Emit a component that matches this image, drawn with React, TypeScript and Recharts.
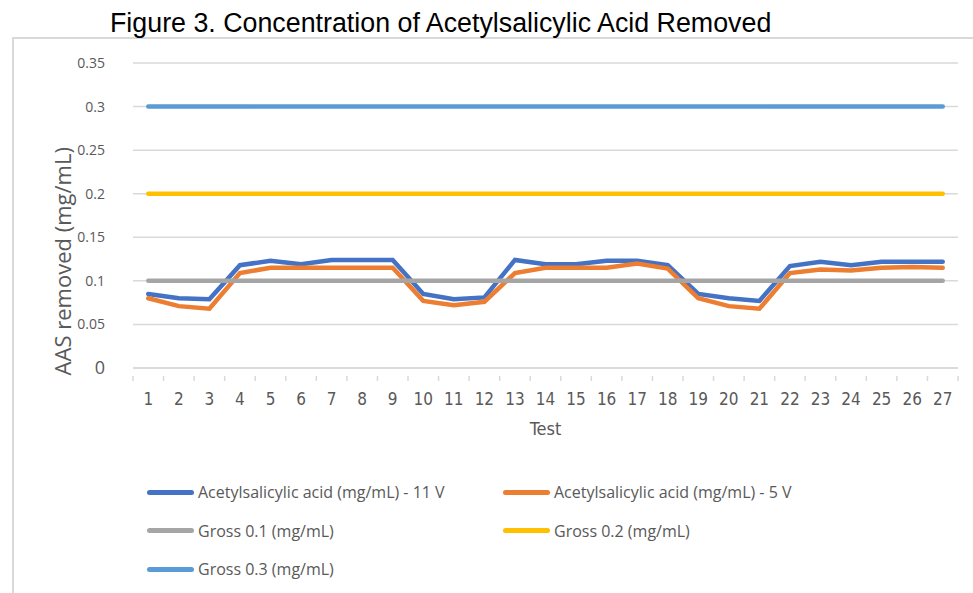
import React from 'react'
import { LineChart, Line, XAxis, YAxis, CartesianGrid, Label } from 'recharts'

const tests = ['1', '2', '3', '4', '5', '6', '7', '8', '9', '10', '11', '12', '13', '14', '15', '16', '17', '18', '19', '20', '21', '22', '23', '24', '25', '26', '27']

const aas11V = [0.085, 0.08, 0.079, 0.118, 0.123, 0.119, 0.124, 0.124, 0.124, 0.085, 0.079, 0.081, 0.124, 0.119, 0.119, 0.123, 0.123, 0.118, 0.085, 0.08, 0.077, 0.117, 0.122, 0.118, 0.122, 0.122, 0.122]
const aas5V = [0.08, 0.071, 0.068, 0.109, 0.115, 0.115, 0.115, 0.115, 0.115, 0.077, 0.072, 0.076, 0.109, 0.115, 0.115, 0.115, 0.12, 0.114, 0.08, 0.071, 0.068, 0.109, 0.113, 0.112, 0.115, 0.116, 0.115]

// the three reference levels are flat across every test
const grossLevels = [0.1, 0.2, 0.3]

const yTicks = [0, 0.05, 0.1, 0.15, 0.2, 0.25, 0.3, 0.35]

const series = [
  { key: 'v11', name: 'Acetylsalicylic acid (mg/mL) - 11 V', color: '#4472C4' },
  { key: 'v5', name: 'Acetylsalicylic acid (mg/mL) - 5 V', color: '#ED7D31' },
  { key: 'g1', name: 'Gross 0.1 (mg/mL)', color: '#A5A5A5' },
  { key: 'g2', name: 'Gross 0.2 (mg/mL)', color: '#FFC000' },
  { key: 'g3', name: 'Gross 0.3 (mg/mL)', color: '#5B9BD5' },
]

const data = tests.map((t, i) => ({
  test: t,
  v11: aas11V[i],
  v5: aas5V[i],
  g1: grossLevels[0],
  g2: grossLevels[1],
  g3: grossLevels[2],
}))

const CHART_W = 973
const CHART_H = 460
const MARGIN = { top: 63, right: 15, left: 73, bottom: 22 }
const Y_AXIS_W = 60
const PLOT_W = CHART_W - MARGIN.left - MARGIN.right - Y_AXIS_W
const BAND = PLOT_W / tests.length

const GRID = '#d9d9d9'
const TEXT = '#595959'

const XTick = ({ x, y, payload, index }: any) => (
  <g>
    <line x1={x - BAND / 2} x2={x - BAND / 2} y1={y} y2={y + 5} stroke={GRID} strokeWidth={1.5} />
    {index === tests.length - 1 && (
      <line x1={x + BAND / 2} x2={x + BAND / 2} y1={y} y2={y + 5} stroke={GRID} strokeWidth={1.5} />
    )}
    <text
      x={x}
      y={y + 29}
      textAnchor="middle"
      fill={TEXT}
      fontSize={17}
      fontFamily="'Liberation Sans Narrow', 'DejaVu Sans Condensed', sans-serif"
    >
      {payload.value}
    </text>
  </g>
)

const YTick = ({ x, y, payload }: any) => (
  <text
    x={x}
    y={y}
    dy={payload.value === 0 ? 6 : 5}
    textAnchor="end"
    fill={TEXT}
    fontSize={payload.value === 0 ? 18 : 14}
    fontFamily="'Open Sans', sans-serif"
  >
    {String(payload.value)}
  </text>
)

export default function App() {
  return (
    <div
      style={{
        position: 'absolute',
        left: 0,
        top: 0,
        width: 973,
        height: 593,
        background: '#fff',
        overflow: 'hidden',
      }}
    >
      <div
        style={{
          position: 'absolute',
          left: 12,
          top: 37,
          width: 1000,
          height: 700,
          border: `2px solid ${GRID}`,
        }}
      />
      <div
        style={{
          position: 'absolute',
          left: 110,
          top: 10,
          fontFamily: "'Liberation Sans', Arial, sans-serif",
          fontSize: 26.8,
          lineHeight: '26px',
          color: '#000',
          whiteSpace: 'nowrap',
        }}
      >
        Figure 3. Concentration of Acetylsalicylic Acid Removed
      </div>

      <div style={{ position: 'absolute', left: 0, top: 0 }}>
        <LineChart width={CHART_W} height={CHART_H} data={data} margin={MARGIN}>
          <CartesianGrid vertical={false} stroke={GRID} strokeWidth={1.5} />
          <XAxis
            dataKey="test"
            axisLine={{ stroke: GRID, strokeWidth: 1.5 }}
            tickLine={false}
            tick={<XTick />}
            interval={0}
            height={70}
            padding={{ left: BAND / 2, right: BAND / 2 }}
          >
            <Label
              value="Test"
              position="insideBottom"
              offset={3}
              fill={TEXT}
              fontSize={18}
              fontFamily="'Liberation Sans Narrow', 'DejaVu Sans Condensed', sans-serif"
            />
          </XAxis>
          <YAxis
            width={Y_AXIS_W}
            domain={[0, 0.35]}
            ticks={yTicks}
            axisLine={false}
            tickLine={false}
            tickSize={0}
            tickMargin={28}
            tick={<YTick />}
          >
            <Label
              content={({ viewBox }: any) => {
                const cx = viewBox.x - 11
                const cy = viewBox.y + viewBox.height * 0.65
                return (
                  <text
                    x={cx}
                    y={cy}
                    transform={`rotate(-90, ${cx}, ${cy})`}
                    textAnchor="middle"
                    dominantBaseline="central"
                    fill={TEXT}
                    fontSize={22}
                    fontFamily="'Open Sans', sans-serif"
                  >
                    AAS removed (mg/mL)
                  </text>
                )
              }}
            />
          </YAxis>
          {series.map(s => (
            <Line
              key={s.key}
              dataKey={s.key}
              name={s.name}
              stroke={s.color}
              strokeWidth={4.5}
              strokeLinecap="round"
              dot={false}
              activeDot={false}
              isAnimationActive={false}
            />
          ))}
        </LineChart>
      </div>

      {series.map((s, i) => {
        const col = i % 2
        const row = Math.floor(i / 2)
        return (
          <div
            key={s.key}
            style={{
              position: 'absolute',
              left: col === 0 ? 147 : 503,
              top: 482 + row * 38.5,
              height: 20,
              display: 'flex',
              alignItems: 'center',
              whiteSpace: 'nowrap',
              fontFamily: "'Open Sans', sans-serif",
              fontSize: 16,
              color: TEXT,
            }}
          >
            <span
              style={{
                display: 'inline-block',
                width: 47,
                height: 5,
                borderRadius: 3,
                background: s.color,
                marginRight: 4,
              }}
            />
            {s.name}
          </div>
        )
      })}
    </div>
  )
}
